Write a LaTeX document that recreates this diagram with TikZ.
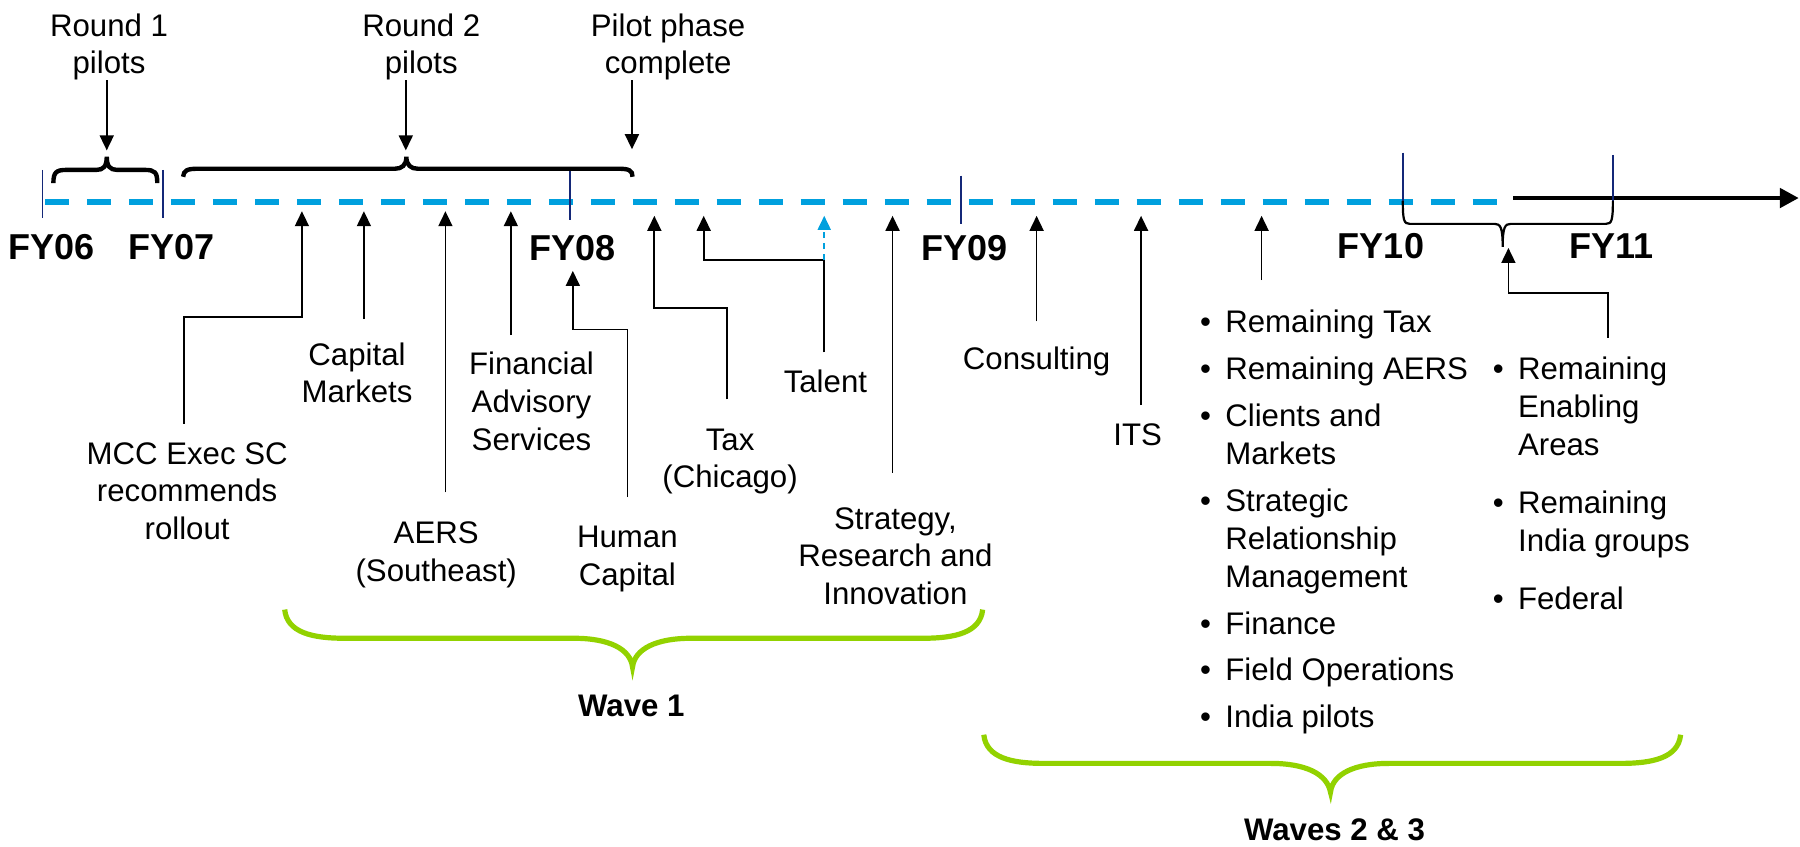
\documentclass[tikz,border=0pt]{standalone}
\usepackage{fontspec}
\setmainfont{Liberation Sans}
\usetikzlibrary{arrows.meta}
\definecolor{tlblue}{RGB}{0,160,222}
\definecolor{wavegreen}{RGB}{146,210,0}
\definecolor{ticknavy}{RGB}{20,40,120}
\begin{document}
\begin{tikzpicture}[x=0.574pt,y=-0.574pt,
  lbl/.style={align=center,inner sep=0pt,anchor=north,font=\fontsize{15.6}{18.8}\selectfont},
  fylbl/.style={inner sep=0pt,font=\fontsize{18}{20}\selectfont\bfseries},
  wavelbl/.style={inner sep=0pt,anchor=north,font=\fontsize{15.6}{18}\selectfont\bfseries},
  listlbl/.style={inner sep=0pt,anchor=base west,font=\fontsize{15.6}{19}\selectfont},
  conn/.style={line width=0.85pt,-{Triangle[length=7.5pt,width=7pt]}},
  bconn/.style={tlblue,line width=0.9pt,dash pattern=on 3pt off 2.5pt,-{Triangle[length=7pt,width=6.5pt]}},
  tickmark/.style={ticknavy,line width=0.8pt},
  blackbrace/.style={line width=2.2pt},
  thinbrace/.style={line width=1.1pt},
  greenbrace/.style={wavegreen,line width=2.6pt},
]
\useasboundingbox (0,0) rectangle (1568,737);

% ---------- timeline ----------
\coordinate (tlA) at (39,176);
\coordinate (tlB) at (1306,176);
\coordinate (axA) at (1318,172.5);
\coordinate (axB) at (1567,172.5);
\draw[tlblue,line width=2.7pt,dash pattern=on 12pt off 9pt] (tlA) -- (tlB);
\draw[line width=2.4pt,-{Triangle[length=9.5pt,width=9.5pt]}] (axA) -- (axB);

% ticks
\draw[tickmark] (37,148) -- (37,190);
\draw[tickmark] (142,148) -- (142,190);
\draw[tickmark] (496.5,149) -- (496.5,192);
\draw[tickmark] (837,153) -- (837,195);
\draw[tickmark] (1222,133) -- (1222,176);
\draw[tickmark] (1405,135) -- (1405,176);

% FY labels
\node[fylbl] (fy06) at (44.5,215) {FY06};
\node[fylbl] (fy07) at (149,215) {FY07};
\node[fylbl] (fy08) at (499,216) {FY08};
\node[fylbl] (fy09) at (840,216) {FY09};
\node[fylbl] (fy10) at (1203,214) {FY10};
\node[fylbl] (fy11) at (1404,214) {FY11};

% ---------- top labels and arrows ----------
\node[lbl] (round1) at (95,11.6) {Round 1\\pilots};
\node[lbl] (round2) at (367,11.6) {Round 2\\pilots};
\node[lbl] (pilotdone) at (582,11.6) {Pilot phase\\complete};

\coordinate (r1a) at (93,70);   \coordinate (r1b) at (93,131);
\coordinate (r2a) at (353.5,70); \coordinate (r2b) at (353.5,131);
\coordinate (ppa) at (550.5,70); \coordinate (ppb) at (550.5,130);
\draw[conn] (r1a) -- (r1b);
\draw[conn] (r2a) -- (r2b);
\draw[conn] (ppa) -- (ppb);

% black braces above the line
\draw[blackbrace] (46.5,159.5) .. controls (46.5,150) and (49,148) .. (58,148) -- (84,148)
  .. controls (90,148) and (93,145) .. (93,136.5)
  .. controls (93,145) and (96,148) .. (102,148) -- (126,148)
  .. controls (135,148) and (137,150) .. (137,159.5);
\draw[blackbrace] (159.5,154) .. controls (160,148.5) and (163,147) .. (172,147) -- (344,147)
  .. controls (350,147) and (354,144) .. (354,136.5)
  .. controls (354,144) and (358,147) .. (364,147) -- (539,147)
  .. controls (548,147) and (551,148.5) .. (551,154);

% thin brace below FY10-FY11
\draw[thinbrace] (1222,175) .. controls (1222,192) and (1223,195) .. (1228,195) -- (1302,195)
  .. controls (1307,195) and (1309,198) .. (1309,215)
  .. controls (1309,198) and (1311,195) .. (1316,195) -- (1399,195)
  .. controls (1404,195) and (1405,192) .. (1405,175);

% ---------- bottom labels ----------
\node[lbl] (mcc) at (163,385) {MCC Exec SC\\recommends\\rollout};
\node[lbl] (capm) at (311,298) {Capital\\Markets};
\node[lbl] (aers) at (380,454.5) {AERS\\(Southeast)};
\node[lbl] (fas) at (463,306.5) {Financial\\Advisory\\Services};
\node[lbl] (hc) at (546.5,458) {Human\\Capital};
\node[lbl] (tax) at (636,373) {Tax\\(Chicago)};
\node[lbl] (talent) at (719,322) {Talent};
\node[lbl] (sri) at (780,441.5) {Strategy,\\Research and\\Innovation};
\node[lbl] (cons) at (903,302) {Consulting};
\node[lbl] (its) at (991,369) {ITS};

\node[listlbl] (wave2list) at (1045,290) {\begin{tabular}[t]{@{}l@{\hspace{7.2pt}}l@{}}
\textbullet & Remaining Tax\\[4.4pt]
\textbullet & Remaining AERS\\[4.4pt]
\textbullet & Clients and\\
 & Markets\\[4.4pt]
\textbullet & Strategic\\
 & Relationship\\
 & Management\\[4.4pt]
\textbullet & Finance\\[4.4pt]
\textbullet & Field Operations\\[4.4pt]
\textbullet & India pilots
\end{tabular}};

\node[listlbl] (wave3list) at (1300,331) {\begin{tabular}[t]{@{}l@{\hspace{7.2pt}}l@{}}
\textbullet & Remaining\\
 & Enabling\\
 & Areas\\[9.9pt]
\textbullet & Remaining\\
 & India groups\\[9.9pt]
\textbullet & Federal
\end{tabular}};

% ---------- upward connectors ----------
\coordinate (mccS) at (160,369);  \coordinate (mccK) at (263,276); \coordinate (mccT) at (263,184);
\draw[conn] (mccS) |- (mccK) -- (mccT);
\coordinate (capS) at (317,278);  \coordinate (capT) at (317,184);
\draw[conn] (capS) -- (capT);
\coordinate (aerS) at (388,429);  \coordinate (aerT) at (388,184);
\draw[conn] (aerS) -- (aerT);
\coordinate (fasS) at (445,292);  \coordinate (fasT) at (445,184);
\draw[conn] (fasS) -- (fasT);
\coordinate (hcS) at (546.5,433); \coordinate (hcK) at (499,287); \coordinate (hcT) at (499,236);
\draw[conn] (hcS) |- (hcK) -- (hcT);
\coordinate (taxS) at (633,348);  \coordinate (taxK) at (570,268); \coordinate (taxT) at (570,188);
\draw[conn] (taxS) |- (taxK) -- (taxT);
\coordinate (talS) at (718,307);  \coordinate (talK) at (613,226.5); \coordinate (talT) at (613,188);
\coordinate (talJ) at (718,226.5); \coordinate (talB) at (718,188);
\draw[conn] (talS) |- (talK) -- (talT);
\draw[bconn] (talJ) -- (talB);
\coordinate (sriS) at (777.5,412); \coordinate (sriT) at (777.5,188);
\draw[conn] (sriS) -- (sriT);
\coordinate (conS) at (903,280);  \coordinate (conT) at (903,188);
\draw[conn] (conS) -- (conT);
\coordinate (itsS) at (994,353);  \coordinate (itsT) at (994,188);
\draw[conn] (itsS) -- (itsT);
\coordinate (l1S) at (1099,244);  \coordinate (l1T) at (1099,188);
\draw[conn] (l1S) -- (l1T);
\coordinate (l2S) at (1401,294);  \coordinate (l2K) at (1314,255); \coordinate (l2T) at (1314,216);
\draw[conn] (l2S) |- (l2K) -- (l2T);

% ---------- green braces ----------
\draw[greenbrace] (248,531) .. controls (250,551) and (272,556) .. (300,556) -- (500,556)
  .. controls (530,556) and (549,565) .. (551,581)
  .. controls (553,565) and (572,556) .. (602,556) -- (804,556)
  .. controls (832,556) and (854,551) .. (856,531);
\draw[greenbrace] (857,640) .. controls (859,660) and (881,665) .. (909,665) -- (1107,665)
  .. controls (1137,665) and (1156,674) .. (1159,690)
  .. controls (1161,674) and (1180,665) .. (1210,665) -- (1412,665)
  .. controls (1440,665) and (1462,660) .. (1464,640);

\node[wavelbl] (wave1) at (550,605) {Wave 1};
\node[wavelbl] (waves23) at (1162.5,713) {Waves 2 \& 3};
\end{tikzpicture}
\end{document}
